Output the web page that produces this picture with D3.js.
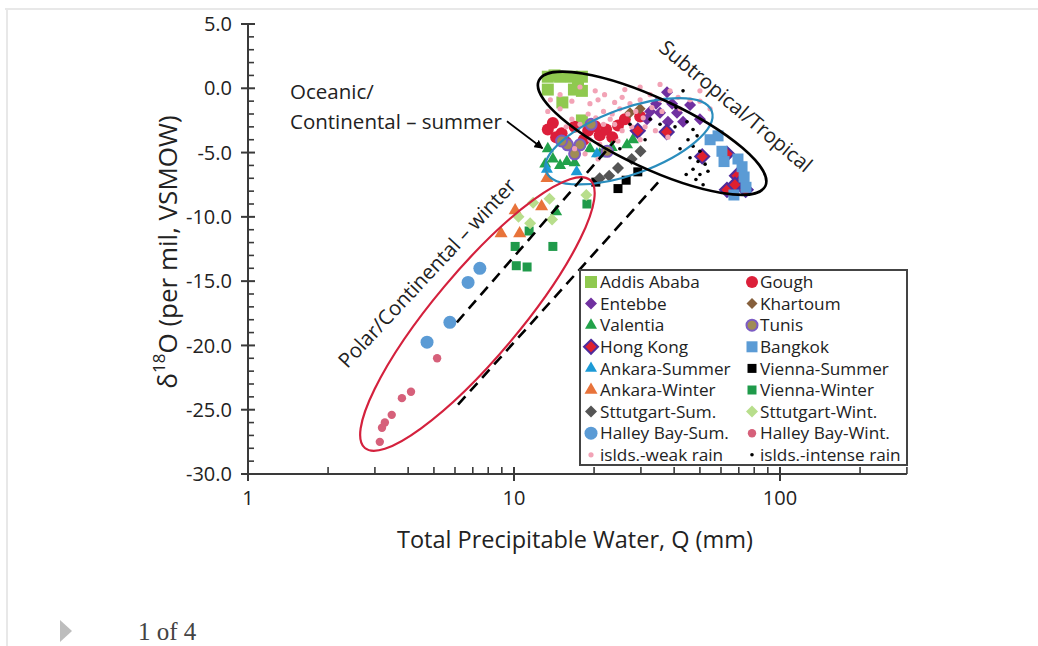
<!DOCTYPE html>
<html><head><meta charset="utf-8">
<script src="https://cdn.jsdelivr.net/npm/d3@7"></script>
<style>html,body{margin:0;padding:0;background:#fff;}svg{display:block;}</style>
</head><body>
<svg id="chart" width="1038" height="646"></svg>
<script>
// ---------- data: [Q (mm), delta18O (per mil)] ----------
const addisAbaba = [[13.4,0.9],[14.9,0.9],[16.5,0.9],[18.0,0.9],[13.4,-0.1],[16.8,-0.1],[18.0,-0.2],[15.2,-1.1],[18.0,-2.5],[14.2,1.0],[17.4,0.3]];
const gough = [[13.4,-3.2],[14.4,-3.8],[15.1,-3.5],[15.7,-4.2],[16.9,-3.0],[19.0,-3.3],[20.2,-2.95],[21.0,-3.65],[22.2,-3.2],[23.4,-3.8],[24.6,-2.9],[18.3,-4.0],[14.0,-2.7],[26.1,-2.4],[29.8,-2.2]];
const entebbe = [[37.6,-0.3],[39.3,-1.2],[35.4,-1.9],[41.0,-1.9],[43.2,-2.6],[37.9,-2.6],[32.5,-1.8],[45.9,-1.3],[31.6,-2.4],[50.0,-2.4],[34.2,-1.2]];
const khartoum = [[29.8,-1.6],[27.3,-1.9]];
const valentia = [[13.1,-5.9],[14.0,-5.5],[14.9,-6.0],[15.8,-5.7],[16.9,-5.8],[19.3,-4.7],[21.0,-5.1],[23.3,-4.6],[26.6,-4.4],[28.0,-4.0],[13.4,-4.7],[14.4,-9.6]];
const tunis = [[15.9,-4.4],[17.7,-4.4],[16.9,-5.1],[19.5,-2.8],[22.4,-4.9],[15.1,-4.1]];
const hongKong = [[29.2,-3.3],[37.5,-3.4],[51.0,-5.3],[63.2,-5.1],[68.9,-6.8],[71.3,-7.3],[63.2,-7.9],[74.3,-7.9],[67.7,-7.5]];
const bangkok = [[58.5,-3.7],[60.5,-4.9],[61.6,-5.7],[69.5,-5.5],[72.0,-6.1],[74.5,-7.7],[67.1,-8.3],[54.6,-4.0],[73.3,-6.9]];
const ankaraSummer = [[17.2,-6.5],[20.5,-5.1],[13.3,-6.3]];
const viennaSummer = [[20.3,-7.3],[24.6,-7.8],[29.2,-6.5],[26.4,-7.15]];
const ankaraWinter = [[8.94,-11.3],[10.5,-11.3],[10.1,-9.5],[12.7,-9.2],[13.3,-7.0]];
const viennaWinter = [[10.1,-12.3],[10.2,-13.8],[11.2,-13.9],[11.4,-11.1],[14.0,-12.3],[18.8,-9.0]];
const sttutgartSum = [[21.0,-7.0],[22.8,-6.8],[24.6,-6.2],[27.7,-5.5],[29.9,-4.9]];
const sttutgartWint = [[10.4,-10.0],[11.8,-8.9],[11.5,-10.5],[13.6,-8.6],[13.9,-10.2],[18.7,-8.3]];
const halleyBaySum = [[4.71,-19.75],[5.74,-18.2],[6.72,-15.1],[7.44,-14.0]];
const halleyBayWint = [[3.13,-27.5],[3.19,-26.4],[3.27,-26.0],[3.47,-25.4],[3.79,-24.1],[4.10,-23.6],[5.14,-21.0]];
const isldsWeak = [[14.9,-0.5],[16.5,-1.0],[17.7,0.1],[19.3,-1.2],[20.7,-0.9],[21.9,-0.5],[23.9,-1.1],[25.5,-0.7],[27.3,-1.2],[29.8,-0.9],[32.5,-0.5],[35.4,-0.9],[38.6,-0.2],[41.4,-0.7],
  [19.0,-2.0],[20.3,-2.3],[21.7,-1.8],[23.4,-2.0],[25.0,-1.6],[26.8,-2.0],[28.7,-1.8],[30.6,-2.3],[33.0,-1.5],[36.0,-1.8],[16.5,-2.4],[17.7,-2.8],[15.7,-3.0],[19.3,-4.0],[21.0,-4.35],
  [23.0,-2.4],[25.5,-3.3],[27.7,-3.0],[31.1,-3.0],[34.0,-3.3],[37.9,-3.8],[42.1,-1.6],[45.9,-0.9],[50.0,-1.0],[54.6,-1.6],[16.9,-4.7],[18.5,-5.1],[20.7,-5.5],[14.9,-1.6],[13.7,-0.9],
  [21.7,-2.8],[24.6,-4.1],[35.4,0.3],[29.8,0.1],[26.1,-0.1],[20.2,-0.2],[23.9,-2.8],[13.4,-1.8],[50.0,-0.2],[29.8,-4.0]];
const isldsIntense = [[43.2,-0.2],[40.6,-1.5],[44.7,-2.6],[47.1,-3.2],[48.8,-3.7],[45.1,-4.0],[47.1,-4.5],[50.0,-4.9],[45.9,-5.4],[49.2,-5.7],[52.3,-5.9],[47.1,-6.3],[50.0,-6.7],[53.6,-6.45],
  [48.3,-7.1],[51.4,-7.5],[44.4,-6.7],[32.5,-2.4],[35.4,-2.8],[27.3,-2.8],[31.1,-4.0],[25.0,-4.7],[40.3,-3.0],[42.1,-4.7]];

const seriesNames = ["Addis Ababa","Gough","Entebbe","Khartoum","Valentia","Tunis","Hong Kong","Bangkok","Ankara-Summer","Vienna-Summer","Ankara-Winter","Vienna-Winter","Sttutgart-Sum.","Sttutgart-Wint.","Halley Bay-Sum.","Halley Bay-Wint.","islds.-weak rain","islds.-intense rain"];
const seriesData = [addisAbaba,gough,entebbe,khartoum,valentia,tunis,hongKong,bangkok,ankaraSummer,viennaSummer,ankaraWinter,viennaWinter,sttutgartSum,sttutgartWint,halleyBaySum,halleyBayWint,isldsWeak,isldsIntense];

const yTicks = [5,0,-5,-10,-15,-20,-25,-30];
const xTicks = [1,10,100];

// annotation geometry in data units (major-axis end points)
const ellipseSubtropical = {a:[12.4,0.61], b:[88.1,-7.6]};
const ellipseOceanic = {a:[13.2,-6.46], b:[55.4,-1.78]};
const ellipsePolar = {a:[2.75,-27.98], b:[19.3,-7.13]};
const dashUpper = [[6.1,-18.2],[23.9,-4.1]];
const dashLower = [[6.16,-24.6],[36.0,-6.98]];
const arrowOceanic = [[9.41,-2.57],[12.8,-4.67]];

// ---------- styles ----------
const styles = {
  "Addis Ababa":{shape:"square",s:6,fill:"#8fc94f"},
  "Gough":{shape:"circle",s:6,fill:"#dc1f3a"},
  "Entebbe":{shape:"diamond",s:6,fill:"#7030a0"},
  "Khartoum":{shape:"diamond",s:5.5,fill:"#86603c"},
  "Valentia":{shape:"triangle",s:6,fill:"#22a24a"},
  "Tunis":{shape:"circle",s:5.5,fill:"#a08c55",stroke:"#7c5cc4",sw:2},
  "Hong Kong":{shape:"diamond",s:7,fill:"#e0202f",stroke:"#4f2c9c",sw:2},
  "Bangkok":{shape:"square",s:5.5,fill:"#5b9bd5"},
  "Ankara-Summer":{shape:"triangle",s:6,fill:"#1c9ad6"},
  "Vienna-Summer":{shape:"square",s:4.5,fill:"#000"},
  "Ankara-Winter":{shape:"triangle",s:6.5,fill:"#e8733a"},
  "Vienna-Winter":{shape:"square",s:4.5,fill:"#1f9a4a"},
  "Sttutgart-Sum.":{shape:"diamond",s:6,fill:"#555"},
  "Sttutgart-Wint.":{shape:"diamond",s:6,fill:"#b8de8c"},
  "Halley Bay-Sum.":{shape:"circle",s:6.5,fill:"#5b9bd5"},
  "Halley Bay-Wint.":{shape:"circle",s:4.2,fill:"#d6607a"},
  "islds.-weak rain":{shape:"circle",s:2.6,fill:"#f2a3b6"},
  "islds.-intense rain":{shape:"circle",s:1.8,fill:"#000"}
};

const svg = d3.select("#chart");
const FONT = "'Open Sans', 'Liberation Sans', sans-serif";
const x = d3.scaleLog().domain([1,300]).range([248, 248 + 266*Math.log10(300)]);
const y = d3.scaleLinear().domain([-30,5]).range([474,24]);

// page frame
svg.append("line").attr("x1",5).attr("x2",1038).attr("y1",9).attr("y2",9).attr("stroke","#e8e8e8").attr("stroke-width",2);
svg.append("line").attr("x1",7).attr("x2",7).attr("y1",9).attr("y2",646).attr("stroke","#e8e8e8").attr("stroke-width",2);

function symPath(shape, s){
  if(shape==="square") return `M${-s},${-s}h${2*s}v${2*s}h${-2*s}Z`;
  if(shape==="diamond") return `M0,${-s}L${s},0L0,${s}L${-s},0Z`;
  if(shape==="triangle"){const h=s*Math.sqrt(3);return `M0,${-2*h/3}L${s},${h/3}L${-s},${h/3}Z`;}
  return d3.symbol(d3.symbolCircle, Math.PI*s*s)();
}
function drawMarker(g, st, cx, cy){
  g.append("path").attr("d",symPath(st.shape, st.s)).attr("transform",`translate(${cx},${cy})`)
   .attr("fill",st.fill).attr("stroke",st.stroke||"none").attr("stroke-width",st.sw||0);
}

// axes
const ax = svg.append("g").attr("stroke","#3a3a3a").attr("stroke-width",2);
ax.append("line").attr("x1",x(1)).attr("x2",x(1)).attr("y1",y(5)).attr("y2",y(-30));
ax.append("line").attr("x1",x(1)).attr("x2",x(300)).attr("y1",y(-30)).attr("y2",y(-30));
d3.range(-30,5.001,1).forEach(v=>{
  if(v%5===0) ax.append("line").attr("x1",x(1)-7).attr("x2",x(1)+7).attr("y1",y(v)).attr("y2",y(v));
  else ax.append("line").attr("x1",x(1)).attr("x2",x(1)+6).attr("y1",y(v)).attr("y2",y(v)).attr("stroke-width",1.6);
});
[1,2,3,4,5,6,7,8,9,10,20,30,40,50,60,70,80,90,100,200,300].forEach(v=>{
  if(xTicks.includes(v)) ax.append("line").attr("x1",x(v)).attr("x2",x(v)).attr("y1",y(-30)-7).attr("y2",y(-30)+7);
  else ax.append("line").attr("x1",x(v)).attr("x2",x(v)).attr("y1",y(-30)-7).attr("y2",y(-30)).attr("stroke-width",1.6);
});
svg.append("g").selectAll("text").data(yTicks).join("text")
  .attr("x",x(1)-16).attr("y",d=>y(d)).attr("dy","0.36em").attr("text-anchor","end")
  .attr("font-family",FONT).attr("font-size",20).attr("fill","#222").text(d=>d.toFixed(1));
svg.append("g").selectAll("text").data(xTicks).join("text")
  .attr("x",d=>x(d)).attr("y",y(-30)+24).attr("dy","0.36em").attr("text-anchor","middle")
  .attr("font-family",FONT).attr("font-size",20).attr("fill","#222").text(d=>d);
svg.append("text").attr("x",575).attr("y",y(-30)+66).attr("dy","0.36em").attr("text-anchor","middle")
  .attr("font-family",FONT).attr("font-size",23.5).attr("fill","#222").text("Total Precipitable Water, Q (mm)");
const yt = svg.append("text").attr("transform","translate(168,252) rotate(-90)").attr("text-anchor","middle")
  .attr("dy","0.36em").attr("font-family",FONT).attr("font-size",26).attr("fill","#222");
yt.append("tspan").text("δ");
yt.append("tspan").attr("font-size",17).attr("dy","-0.7em").text("18");
yt.append("tspan").attr("dy","0.45em").text("O (per mil, VSMOW)");

// points
const pts = svg.append("g");
seriesNames.forEach((name,i)=>{
  const st = styles[name];
  seriesData[i].forEach(d=>drawMarker(pts, st, x(d[0]), y(d[1])));
});

// ellipses
function drawEllipse(e, color, b, w){
  const x1=x(e.a[0]), y1=y(e.a[1]), x2=x(e.b[0]), y2=y(e.b[1]);
  const cx=(x1+x2)/2, cy=(y1+y2)/2, a=Math.hypot(x2-x1,y2-y1)/2, ang=Math.atan2(y2-y1,x2-x1)*180/Math.PI;
  svg.append("ellipse").attr("cx",cx).attr("cy",cy).attr("rx",a).attr("ry",b)
    .attr("transform",`rotate(${ang},${cx},${cy})`).attr("fill","none").attr("stroke",color).attr("stroke-width",w);
}
drawEllipse(ellipseOceanic, "#2a8dbd", 33, 2.2);
drawEllipse(ellipseSubtropical, "#000", 35, 2.6);
drawEllipse(ellipsePolar, "#d4213d", 43, 2.2);

// dashed lines
[dashUpper, dashLower].forEach(l=>{
  svg.append("line").attr("x1",x(l[0][0])).attr("y1",y(l[0][1])).attr("x2",x(l[1][0])).attr("y2",y(l[1][1]))
    .attr("stroke","#000").attr("stroke-width",2.6).attr("stroke-dasharray","11,7");
});

// arrow
svg.append("defs").append("marker").attr("id","ah").attr("viewBox","0 0 10 10").attr("refX",9).attr("refY",5)
  .attr("markerWidth",5).attr("markerHeight",5).attr("orient","auto")
  .append("path").attr("d","M0,0L10,5L0,10Z").attr("fill","#000");
svg.append("line").attr("x1",x(arrowOceanic[0][0])).attr("y1",y(arrowOceanic[0][1]))
  .attr("x2",x(arrowOceanic[1][0])).attr("y2",y(arrowOceanic[1][1]))
  .attr("stroke","#000").attr("stroke-width",1.8).attr("marker-end","url(#ah)");

// annotation texts
const ann = svg.append("g").attr("font-family",FONT).attr("font-size",20.5).attr("fill","#222");
ann.append("text").attr("x",290).attr("y",99).text("Oceanic/");
ann.append("text").attr("x",290).attr("y",129).text("Continental – summer");
ann.append("text").attr("transform","translate(736,106) rotate(40)").attr("text-anchor","middle").attr("dy","0.36em").text("Subtropical/Tropical");
ann.append("text").attr("transform","translate(427,273) rotate(-47)").attr("text-anchor","middle").attr("dy","0.36em").text("Polar/Continental – winter");

// legend
const lg = svg.append("g");
lg.append("rect").attr("x",580).attr("y",270).attr("width",327).attr("height",195).attr("fill","#fff").attr("stroke","#444").attr("stroke-width",2);
seriesNames.forEach((name,i)=>{
  const col=i%2, row=Math.floor(i/2);
  const cy=282+row*21.6, mx=col?752:591, tx=col?760:600;
  drawMarker(lg, styles[name], mx, cy);
  lg.append("text").attr("x",tx).attr("y",cy).attr("dy","0.36em").attr("font-family",FONT).attr("font-size",17.2).attr("fill","#222").text(name);
});

// footer
svg.append("path").attr("d","M60,620L72,631L60,642Z").attr("fill","#bdbdbd");
svg.append("text").attr("x",138).attr("y",640).attr("font-family","'Liberation Serif', serif").attr("font-size",25).attr("fill","#444").text("1 of 4");
</script>
</body></html>
